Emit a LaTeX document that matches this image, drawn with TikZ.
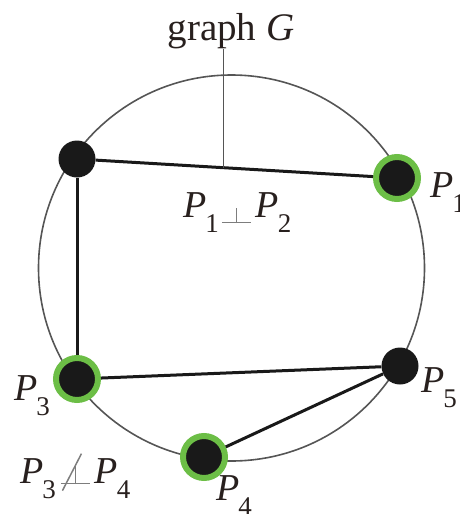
\documentclass[tikz,border=0pt]{standalone}
\usepackage{fontspec}
\setmainfont{Liberation Serif}
\usetikzlibrary{calc}
\definecolor{ringgreen}{RGB}{108,190,70}
\definecolor{dotblack}{RGB}{25,25,25}
\definecolor{circgray}{RGB}{85,85,85}
\definecolor{labink}{RGB}{40,32,30}
\definecolor{relgray}{RGB}{125,125,125}
\newcommand\Plab[1]{\textit{P}\kern-0.03em\raisebox{-0.42em}{\fontsize{27}{27}\selectfont #1}}
% perpendicular sign built from two thin rules
\newcommand\perpbox[1]{\makebox[29pt][l]{\rlap{\rule{29pt}{1.5pt}}\kern13.8pt\rule{1.5pt}{#1}}}
\newcommand\perpsym{{\color{relgray}\raisebox{-6pt}{\perpbox{15pt}}}}
\newcommand\notperpsym{{\color{relgray}\rlap{\kern1pt\raisebox{-8pt}{\rotatebox{62.8}{\rule{41.6pt}{1.5pt}}}}\raisebox{-1pt}{\perpbox{20pt}}}}
\begin{document}
\begin{tikzpicture}[x=1pt,y=-1pt,
  vtx/.style={circle,fill=dotblack,inner sep=0pt,minimum size=37pt},
  gvtx/.style={circle,fill=dotblack,draw=ringgreen,line width=6pt,inner sep=0pt,minimum size=42pt},
  edge/.style={draw=dotblack,line width=3pt},
  lab/.style={text=labink,font=\fontsize{38}{40}\selectfont,inner sep=0pt},
  ]
\useasboundingbox (0,0) rectangle (459,514);
% surrounding circle
\draw[circgray,line width=1.6pt] (231.5,268) circle[radius=193];
% vertices
\node[vtx]  (a)  at (77,159) {};
\node[gvtx] (p1) at (397,178) {};
\node[gvtx] (p3) at (77,379) {};
\node[vtx]  (p5) at (400,366) {};
\node[gvtx] (p4) at (204,457) {};
% edges
\draw[edge] (a) -- (p1);
\draw[edge] (a) -- (p3);
\draw[edge] (p3) -- (p5);
\draw[edge] (p5) -- (p4);
\path (a.center) -- (p1.center) coordinate[pos=0.457] (m);
% title
\node[lab,anchor=base,font=\fontsize{39}{42}\selectfont] (g) at (231,40) {graph \textit{G}};
\draw[circgray,line width=1.2pt] (m |- g.south) -- (m);
% labels
\node[lab,anchor=base west] (l1) at (430,197) {\Plab{1}};
\node[lab,anchor=base west] (l3) at (14,400) {\Plab{3}};
\node[lab,anchor=base west] (l5) at (421,392) {\Plab{5}};
\node[lab,anchor=base west] (l4) at (216,500) {\Plab{4}};
\node[lab,anchor=base west] (r12) at (183,217) {\Plab{1}\kern3pt\perpsym\kern5pt\Plab{2}};
\node[lab,anchor=base west] (r34) at (20,483) {\Plab{3}\kern5pt\notperpsym\kern5pt\Plab{4}};
\end{tikzpicture}
\end{document}
